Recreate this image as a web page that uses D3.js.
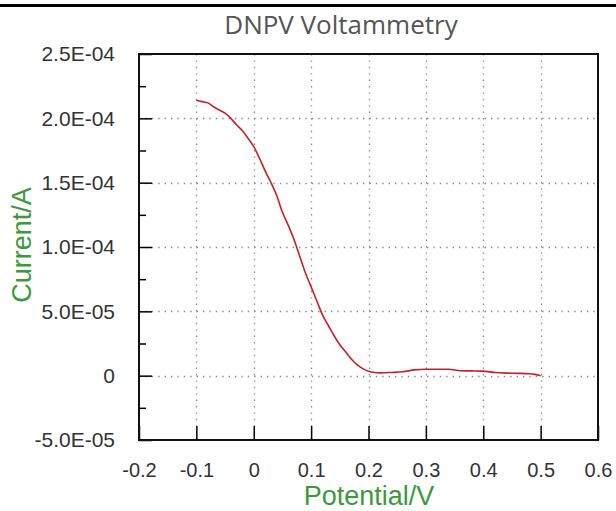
<!DOCTYPE html>
<html>
<head>
<meta charset="utf-8">
<script src="https://cdn.jsdelivr.net/npm/d3@7"></script>
<style>
  html, body { margin: 0; padding: 0; background: #fff; }
  svg { display: block; }
</style>
</head>
<body>
<svg id="chart" width="616" height="511"></svg>
<script>
// DNPV voltammogram: current vs applied potential
const potential = [
  -0.100, -0.090, -0.080, -0.070, -0.060, -0.050, -0.040, -0.030, -0.020, -0.010,
   0.000,  0.010,  0.020,  0.030,  0.040,  0.050,  0.060,  0.070,  0.080,  0.090,
   0.100,  0.110,  0.120,  0.130,  0.140,  0.150,  0.160,  0.170,  0.180,  0.190,
   0.200,  0.210,  0.220,  0.240,  0.260,  0.280,  0.300,  0.320,  0.340,  0.360,
   0.380,  0.400,  0.420,  0.440,  0.460,  0.480,  0.490,  0.500
];
const current = [
  2.140e-4, 2.130e-4, 2.120e-4, 2.090e-4, 2.065e-4, 2.040e-4, 2.000e-4, 1.950e-4, 1.905e-4, 1.845e-4,
  1.780e-4, 1.690e-4, 1.590e-4, 1.500e-4, 1.400e-4, 1.270e-4, 1.170e-4, 1.060e-4, 0.930e-4, 0.800e-4,
  0.690e-4, 0.580e-4, 0.470e-4, 0.390e-4, 0.310e-4, 0.240e-4, 0.185e-4, 0.130e-4, 0.085e-4, 0.055e-4,
  0.035e-4, 0.025e-4, 0.022e-4, 0.025e-4, 0.030e-4, 0.045e-4, 0.050e-4, 0.050e-4, 0.050e-4, 0.038e-4,
  0.037e-4, 0.035e-4, 0.025e-4, 0.020e-4, 0.018e-4, 0.015e-4, 0.010e-4, 0.000e-4
];

const xTicks = [-0.2, -0.1, 0, 0.1, 0.2, 0.3, 0.4, 0.5, 0.6];
const xTickLabels = ["-0.2", "-0.1", "0", "0.1", "0.2", "0.3", "0.4", "0.5", "0.6"];
const yTicks = [-5e-5, 0, 5e-5, 1e-4, 1.5e-4, 2e-4, 2.5e-4];
const yTickLabels = ["-5.0E-05", "0", "5.0E-05", "1.0E-04", "1.5E-04", "2.0E-04", "2.5E-04"];
const yMinorTicks = [-2.5e-5, 2.5e-5, 7.5e-5, 1.25e-4, 1.75e-4, 2.25e-4];

const titleText = "DNPV Voltammetry";
const xTitle = "Potential/V";
const yTitle = "Current/A";

const svg = d3.select("#chart");
const plotLeft = 139, plotRight = 598, plotTop = 54, plotBottom = 440;

const x = d3.scaleLinear().domain([-0.2, 0.6]).range([plotLeft, plotRight]);
const y = d3.scaleLinear().domain([-5e-5, 2.5e-4]).range([plotBottom, plotTop]);

// rule across the top of the figure
svg.append("line")
  .attr("x1", 0).attr("x2", 616).attr("y1", 5.5).attr("y2", 5.5)
  .attr("stroke", "#000").attr("stroke-width", 3);

// title
svg.append("text")
  .attr("x", 341).attr("y", 34)
  .attr("text-anchor", "middle")
  .attr("font-family", "'Open Sans', sans-serif")
  .attr("font-size", 26)
  .attr("fill", "#555")
  .text(titleText);

// dotted grid
const grid = svg.append("g")
  .attr("stroke", "#8a8a8a").attr("stroke-width", 1.3)
  .attr("stroke-dasharray", "1.4,5");
grid.selectAll("line.v")
  .data(xTicks.slice(1, -1)).join("line").attr("class", "v")
  .attr("x1", d => Math.round(x(d)) + 0.5).attr("x2", d => Math.round(x(d)) + 0.5)
  .attr("y1", plotTop).attr("y2", plotBottom);
grid.selectAll("line.h")
  .data(yTicks.slice(1, -1)).join("line").attr("class", "h")
  .attr("x1", plotLeft).attr("x2", plotRight)
  .attr("y1", d => Math.round(y(d)) + 0.5).attr("y2", d => Math.round(y(d)) + 0.5);

// y axis: inward ticks, labels on the left
const yAxis = d3.axisLeft(y)
  .tickValues(yTicks)
  .tickFormat((d, i) => yTickLabels[i])
  .tickSizeInner(-13).tickSizeOuter(0).tickPadding(24);
const yG = svg.append("g").attr("transform", `translate(${plotLeft},0)`).call(yAxis);
yG.select(".domain").remove();
yG.selectAll("line").attr("stroke", "#000").attr("stroke-width", 1.5);
yG.selectAll("text")
  .attr("font-family", "'Liberation Sans', Arial, sans-serif")
  .attr("font-size", 21).attr("fill", "#333");

const yMinor = d3.axisLeft(y).tickValues(yMinorTicks).tickFormat("")
  .tickSizeInner(-7).tickSizeOuter(0);
const yMG = svg.append("g").attr("transform", `translate(${plotLeft},0)`).call(yMinor);
yMG.select(".domain").remove();
yMG.selectAll("line").attr("stroke", "#000").attr("stroke-width", 1.5);

// x axis: inward ticks, labels below
const xAxis = d3.axisBottom(x)
  .tickValues(xTicks)
  .tickFormat((d, i) => xTickLabels[i])
  .tickSizeInner(-14).tickSizeOuter(0).tickPadding(23);
const xG = svg.append("g").attr("transform", `translate(0,${plotBottom})`).call(xAxis);
xG.select(".domain").remove();
xG.selectAll("line").attr("stroke", "#000").attr("stroke-width", 1.5);
xG.selectAll("text")
  .attr("font-family", "'Liberation Sans', Arial, sans-serif")
  .attr("font-size", 20).attr("fill", "#333");

// plot frame
svg.append("rect")
  .attr("x", plotLeft).attr("y", plotTop)
  .attr("width", plotRight - plotLeft).attr("height", plotBottom - plotTop)
  .attr("fill", "none").attr("stroke", "#111").attr("stroke-width", 2);

// data trace
const pts = potential.map((p, i) => [p, current[i]]);
svg.append("path")
  .datum(pts)
  .attr("fill", "none")
  .attr("stroke", "#c8202a")
  .attr("stroke-width", 1.6)
  .attr("stroke-linejoin", "round")
  .attr("d", d3.line().x(d => x(d[0])).y(d => y(d[1])).curve(d3.curveMonotoneX));

// axis titles
svg.append("text")
  .attr("x", 369).attr("y", 505)
  .attr("text-anchor", "middle")
  .attr("font-family", "'Liberation Sans', Arial, sans-serif")
  .attr("font-size", 27).attr("fill", "#3c9a3c")
  .text(xTitle);

svg.append("text")
  .attr("transform", "translate(31,245) rotate(-90)")
  .attr("text-anchor", "middle")
  .attr("font-family", "'Liberation Sans', Arial, sans-serif")
  .attr("font-size", 27).attr("fill", "#3c9a3c")
  .text(yTitle);
</script>
</body>
</html>
